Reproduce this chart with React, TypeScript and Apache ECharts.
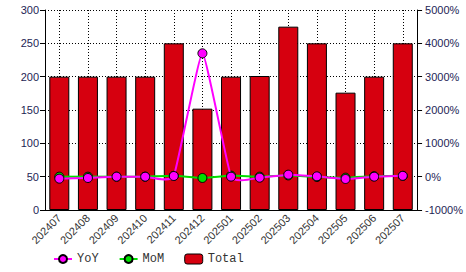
import React, { useEffect, useRef } from "react";
import * as echarts from "echarts";

const categories = ["202407", "202408", "202409", "202410", "202411", "202412", "202501", "202502", "202503", "202504", "202505", "202506", "202507"];
const totalValues = [200, 200, 200, 200, 250, 152, 200, 201, 275, 250, 176, 200, 250];
const yoyValues = [-60, -40, 0, 0, 20, 3700, 0, -30, 60, 10, -70, 0, 25];
const momValues = [0, 0, 0, 0, 25, -39, 32, 0.5, 37, -9, -30, 14, 25];

const TENSION = 0.06;

function splineSeries(name: string, values: number[], color: string, z: number) {
  return {
    name,
    type: "custom",
    yAxisIndex: 1,
    silent: true,
    z,
    data: values.map((v, i) => [i, v]),
    encode: { x: 0, y: 1 },
    renderItem: (params: any, api: any) => {
      const i = params.dataIndex;
      const n = values.length;
      if (i >= n - 1) return { type: "group", children: [] };
      const p = (k: number) => api.coord([Math.max(0, Math.min(n - 1, k)), values[Math.max(0, Math.min(n - 1, k))]]);
      const p0 = p(i - 1);
      const p1 = p(i);
      const p2 = p(i + 1);
      const p3 = p(i + 2);
      return {
        type: "bezierCurve",
        shape: {
          x1: p1[0],
          y1: p1[1],
          cpx1: p1[0] + (p2[0] - p0[0]) * TENSION,
          cpy1: p1[1] + (p2[1] - p0[1]) * TENSION,
          cpx2: p2[0] - (p3[0] - p1[0]) * TENSION,
          cpy2: p2[1] - (p3[1] - p1[1]) * TENSION,
          x2: p2[0],
          y2: p2[1],
        },
        style: { stroke: color, lineWidth: 2, fill: null },
      };
    },
  };
}

export default function App() {
  const ref = useRef<HTMLDivElement>(null);
  useEffect(() => {
    const chart = echarts.init(ref.current!, null, { renderer: "svg" });
    const labelColor = "#1e1e55";
    chart.setOption({
      animation: false,
      backgroundColor: "#ffffff",
      grid: { left: 45, right: 41, top: 10, bottom: 62, containLabel: false },
      legend: {
        bottom: 2,
        left: 48,
        itemWidth: 18,
        itemHeight: 10,
        itemGap: 20,
        itemTextGap: 4,
        textStyle: { fontFamily: "Liberation Mono", fontSize: 12, color: "#333" },
        data: [
          { name: "YoY", lineStyle: { color: "#ff00ff", width: 2, opacity: 1 } },
          { name: "MoM", lineStyle: { color: "#00e000", width: 2, opacity: 1 } },
          { name: "Total", itemStyle: { color: "#d6000f", borderColor: "#000", borderWidth: 1 } },
        ],
      },
      xAxis: {
        type: "category",
        data: categories,
        axisLine: { lineStyle: { color: "#000", width: 1 } },
        axisTick: { alignWithLabel: true, length: 4, lineStyle: { color: "#000" } },
        axisLabel: { rotate: 45, fontSize: 11, color: "#333", fontFamily: "Liberation Sans", margin: 6, interval: 0 },
        splitLine: { show: true, alignWithLabel: true, lineStyle: { type: [1, 2], color: "#000" } },
      },
      yAxis: [
        {
          type: "value",
          min: 0,
          max: 300,
          interval: 50,
          axisLine: { show: true, lineStyle: { color: "#000" } },
          axisTick: { show: true, length: 5, lineStyle: { color: "#000" } },
          axisLabel: { fontSize: 11, color: labelColor, fontFamily: "Liberation Sans", margin: 6 },
          splitLine: { show: true, lineStyle: { type: [1, 2], color: "#000" } },
        },
        {
          type: "value",
          min: -1000,
          max: 5000,
          interval: 1000,
          position: "right",
          axisLine: { show: true, lineStyle: { color: "#000" } },
          axisTick: { show: true, length: 5, lineStyle: { color: "#000" } },
          axisLabel: { fontSize: 11, color: labelColor, fontFamily: "Liberation Sans", margin: 8, formatter: (v: number) => v + "%" },
          splitLine: { show: false },
        },
      ],
      series: [
        {
          name: "Total",
          type: "bar",
          data: totalValues,
          barWidth: 20,
          itemStyle: { color: "#d6000f", borderColor: "#000", borderWidth: 1 },
          z: 1,
        },
        {
          name: "MoM",
          type: "line",
          yAxisIndex: 1,
          data: momValues,
          symbol: "circle",
          symbolSize: 9,
          lineStyle: { color: "#00e000", width: 2, opacity: 0 },
          itemStyle: { color: "#00e000", borderColor: "#000", borderWidth: 1 },
          z: 3,
        },
        splineSeries("MoM", momValues, "#00e000", 2),
        {
          name: "YoY",
          type: "line",
          yAxisIndex: 1,
          data: yoyValues,
          symbol: "circle",
          symbolSize: 9,
          lineStyle: { color: "#ff00ff", width: 2, opacity: 0 },
          itemStyle: { color: "#ff00ff", borderColor: "#000", borderWidth: 1 },
          z: 5,
        },
        splineSeries("YoY", yoyValues, "#ff00ff", 4),
      ],
    });
    return () => chart.dispose();
  }, []);
  return <div ref={ref} style={{ width: 466, height: 272, position: "absolute", left: 0, top: 0 }} />;
}
